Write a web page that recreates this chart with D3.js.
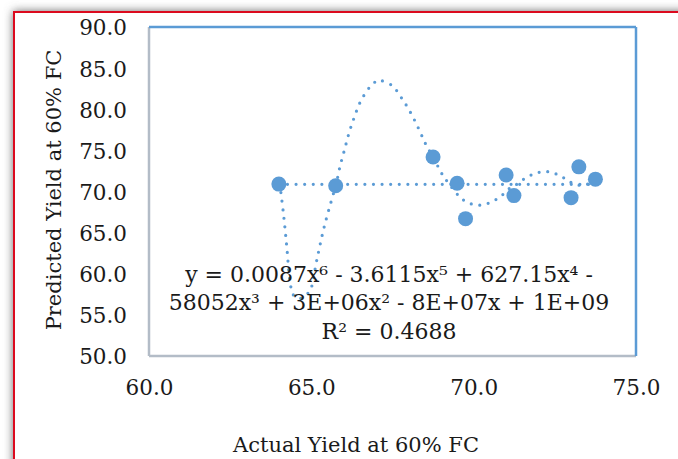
<!DOCTYPE html>
<html>
<head>
<meta charset="utf-8">
<script src="https://cdn.jsdelivr.net/npm/d3@7"></script>
<style>
body { margin: 0; background: #fff; }
text { font-family: "DejaVu Serif", serif; }
</style>
</head>
<body>
<script>
// measured points
var actualYield    = [64.0, 65.75, 68.75, 69.49, 69.75, 71.0, 71.24, 73.0, 73.24, 73.75];
var predictedYield = [70.9, 70.7, 74.2, 71.0, 66.7, 72.0, 69.5, 69.25, 73.0, 71.5];

// poly trendline (order 6) as drawn
var trendX = [64.03, 64.15, 64.25, 64.34, 64.45, 64.65, 64.85, 64.96, 65.17, 65.39, 65.67, 65.76,
              65.88, 66.02, 66.16, 66.32, 66.51, 66.80, 67.00, 67.11, 67.48, 67.80, 68.07, 68.31,
              68.53, 68.75, 69.03, 69.19, 69.51, 69.71, 69.96, 70.22, 70.47, 70.72, 70.92, 71.14,
              71.36, 71.56, 71.80, 72.04, 72.30, 72.56, 72.80, 73.02, 73.27, 73.52, 73.74];
var trendY = [70.9, 67.0, 63.0, 59.2, 57.4, 57.0, 57.5, 57.9, 61.7, 65.6, 69.6, 70.8,
              73.0, 75.05, 77.1, 79.0, 80.9, 82.7, 83.4, 83.5, 82.9, 81.25, 79.5, 77.6,
              75.7, 74.2, 72.1, 71.2, 69.6, 68.9, 68.45, 68.35, 68.6, 69.1, 69.7, 70.5,
              70.95, 71.55, 72.05, 72.35, 72.4, 72.1, 71.6, 71.05, 70.75, 70.9, 70.9];
// flat dotted segment
var flatX = [64.0, 73.75];
var flatY = [70.87, 70.87];

var xTicks = [60, 65, 70, 75];
var yTicks = [50, 55, 60, 65, 70, 75, 80, 85, 90];

var eqLines = ["y = 0.0087x\u2076 - 3.6115x\u2075 + 627.15x\u2074 -",
               "58052x\u00b3 + 3E+06x\u00b2 - 8E+07x + 1E+09",
               "R\u00b2 = 0.4688"];

var W = 678, H = 459;
var margin = {top: 27, right: 42, bottom: 103, left: 149},
    width = W - margin.left - margin.right,
    height = H - margin.top - margin.bottom;
var blue = "#5b9bd5";

var root = d3.select("body").append("svg")
    .attr("width", W)
    .attr("height", H);

var defs = root.append("defs");
defs.append("filter").attr("id", "shadow")
    .attr("x", "-20%").attr("y", "-20%").attr("width", "140%").attr("height", "140%")
  .append("feGaussianBlur").attr("stdDeviation", 5);

// frame with soft shadow
root.append("rect")
    .attr("x", 13).attr("y", 11)
    .attr("width", 720).attr("height", 520)
    .attr("fill", "#6e6e6e")
    .attr("filter", "url(#shadow)");
root.append("rect")
    .attr("x", 14).attr("y", 12)
    .attr("width", 720).attr("height", 520)
    .attr("fill", "#fff")
    .attr("stroke", "#dc0a1e")
    .attr("stroke-width", 2);

var svg = root.append("g")
    .attr("transform", "translate(" + margin.left + "," + margin.top + ")");

var x = d3.scaleLinear().domain([60, 75]).range([0, width]);
var y = d3.scaleLinear().domain([50, 90]).range([height, 0]);

// plot area border
svg.append("line").attr("x1", 0).attr("x2", 0).attr("y1", 0).attr("y2", height)
    .attr("stroke", "#b3bcc7").attr("stroke-width", 2.5);
svg.append("line").attr("x1", 0).attr("x2", width).attr("y1", height).attr("y2", height)
    .attr("stroke", "#b3bcc7").attr("stroke-width", 2.5);
svg.append("line").attr("x1", 0).attr("x2", width).attr("y1", 0).attr("y2", 0)
    .attr("stroke", blue).attr("stroke-width", 2.5);
svg.append("line").attr("x1", width).attr("x2", width).attr("y1", 0).attr("y2", height)
    .attr("stroke", blue).attr("stroke-width", 2.5);

var xAxis = svg.append("g")
    .attr("transform", "translate(0," + height + ")")
    .call(d3.axisBottom(x).tickValues(xTicks).tickSize(0).tickPadding(24).tickFormat(d3.format(".1f")));
var yAxis = svg.append("g")
    .call(d3.axisLeft(y).tickValues(yTicks).tickSize(0).tickPadding(22).tickFormat(d3.format(".1f")));
[xAxis, yAxis].forEach(function(a) {
  a.attr("font-size", 21.5).attr("font-family", "DejaVu Serif").attr("color", "#1a1a1a");
  a.select(".domain").remove();
});
yAxis.selectAll("text").attr("dy", "0.37em");

// trendlines (dotted)
var line = d3.line()
    .x(function(d) { return x(d[0]); })
    .y(function(d) { return y(d[1]); });

svg.append("path")
    .datum(d3.zip(flatX, flatY))
    .attr("d", line)
    .attr("fill", "none")
    .attr("stroke", blue)
    .attr("stroke-width", 3.2)
    .attr("stroke-linecap", "round")
    .attr("stroke-dasharray", "0 8.6");

svg.append("path")
    .datum(d3.zip(trendX, trendY))
    .attr("d", line.curve(d3.curveCatmullRom))
    .attr("fill", "none")
    .attr("stroke", blue)
    .attr("stroke-width", 3.2)
    .attr("stroke-linecap", "round")
    .attr("stroke-dasharray", "0 8.6");

// points
svg.append("g")
  .selectAll("circle")
  .data(d3.zip(actualYield, predictedYield))
  .enter()
  .append("circle")
    .attr("cx", function(d) { return x(d[0]); })
    .attr("cy", function(d) { return y(d[1]); })
    .attr("r", 7.5)
    .style("fill", blue);

// equation
svg.append("g")
  .selectAll("text")
  .data(eqLines)
  .enter()
  .append("text")
    .attr("x", 240)
    .attr("y", function(d, i) { return 255 + i * 28.3; })
    .attr("text-anchor", "middle")
    .attr("font-size", 22)
    .attr("fill", "#1a1a1a")
    .text(function(d) { return d; });

// axis titles
root.append("text")
    .attr("x", 356)
    .attr("y", 452)
    .attr("text-anchor", "middle")
    .attr("font-size", 21)
    .attr("fill", "#1a1a1a")
    .text("Actual Yield at 60% FC");
root.append("text")
    .attr("transform", "translate(61,190) rotate(-90)")
    .attr("text-anchor", "middle")
    .attr("font-size", 21)
    .attr("fill", "#1a1a1a")
    .text("Predicted Yield at 60% FC");
</script>
</body>
</html>
